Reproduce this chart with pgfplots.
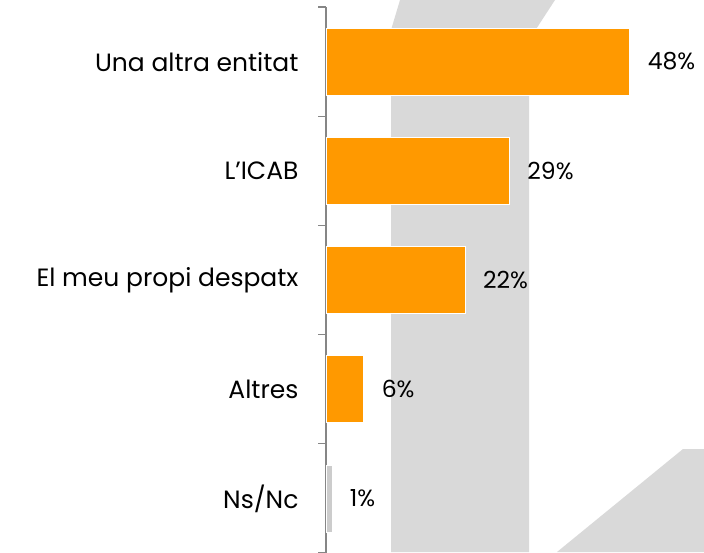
\documentclass[border=0pt]{standalone}
\usepackage{fontspec}
\setmainfont{Poppins}
\usepackage{pgfplots}
\pgfplotsset{compat=1.18}
\definecolor{barorange}{HTML}{FF9900}
\definecolor{wm}{HTML}{D9D9D9}
\definecolor{axgray}{HTML}{868686}
\begin{document}
\fontsize{25}{30}\selectfont
\begin{tikzpicture}[x=1pt,y=1pt]
\useasboundingbox (0,0) rectangle (704,552);
% watermark shapes
\fill[wm] (391,0) -- (391,522) -- (400,552) -- (555,552) -- (529,512) -- (529,0) -- cycle;
\fill[wm] (557,0) -- (683,103) -- (704,103) -- (704,0) -- cycle;
\begin{axis}[
  at={(326pt,-1pt)}, anchor=south west,
  scale only axis, width=378pt, height=546pt,
  xmin=0, xmax=59.7, ymin=0.5, ymax=5.5, y dir=reverse,
  xbar, bar width=67pt, bar shift=0pt,
  axis x line=none, axis y line*=left,
  axis line style={axgray, line width=1.2pt},
  ytick={1,2,3,4,5},
  yticklabels={Una altra entitat\hspace{6pt}, L’ICAB, El meu propi despatx\hspace{6pt}, Altres, Ns/Nc},
  major tick length=0pt,
  minor ytick={0.5,1.5,2.5,3.5,4.5,5.5},
  minor tick length=8pt, tick align=outside,
  minor tick style={axgray, line width=1.2pt},
  yticklabel style={font=\fontsize{25}{30}\selectfont, xshift=-19pt, text=black},
  /pgf/number format/assume math mode=true,
  nodes near coords={\pgfmathprintnumber{\pgfplotspointmeta}\%},
  nodes near coords style={anchor=west, xshift=9pt, font=\fontsize{23.5}{28}\selectfont, text=black},
  clip=false,
]
\addplot[fill=barorange, draw=white, line width=1pt] coordinates {(48,1) (29,2) (22,3) (6,4)};
\addplot[fill=gray!40, draw=white, line width=0.5pt] coordinates {(1,5)};
\end{axis}
\end{tikzpicture}
\end{document}
